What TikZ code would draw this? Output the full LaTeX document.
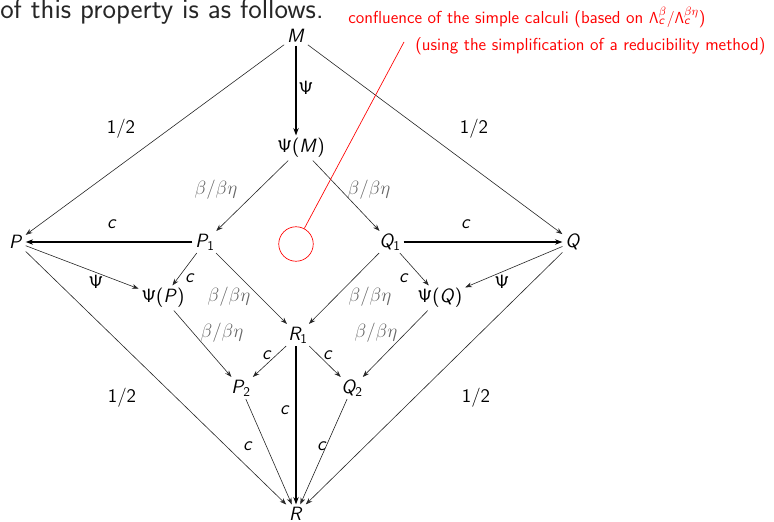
\documentclass[tikz,border=0pt]{standalone}
\usetikzlibrary{arrows.meta}
\DeclareMathAlphabet{\mathsfsl}{OT1}{cmss}{m}{sl}
\newcommand{\vv}[1]{$\mathsfsl{#1}$}
\newcommand{\vs}[2]{$\mathsfsl{#1}_{\mathsf{#2}}$}
\newcommand{\PsiS}{$\mathsf{\Psi}$}
\newcommand{\bb}{$\beta/\beta\eta$}
\begin{document}
\begin{tikzpicture}[x=0.75pt,y=-0.75pt,
  every node/.style={font=\sffamily\fontsize{14.4}{17}\selectfont},
  term/.style={inner sep=2pt},
  lab/.style={inner sep=0pt},
  glab/.style={inner sep=0pt, text=black!60},
  thinarr/.style={draw=black!85, line width=0.45pt, -{Stealth[length=5pt,width=3.6pt]}},
  thickarr/.style={draw=black, line width=1.5pt, -{Stealth[length=5.5pt,width=4pt]}},
  note/.style={text=red, inner sep=0pt, anchor=base west, font=\sffamily\fontsize{13}{15}\selectfont}]
\useasboundingbox (0,0) rectangle (774,521);
% heading remnant
\node[anchor=base west, inner sep=0pt, text=black!85, font=\sffamily\fontsize{21.5}{25}\selectfont] (head) at (0,18) {of this property is as follows.};
% terms
\node[term] (M) at (296,36) {\vv{M}};
\node[term] (PM) at (301,148) {\PsiS(\vv{M})};
\node[term] (P) at (16,242) {\vv{P}};
\node[term] (P1) at (205,242) {\vs{P}{1}};
\node[term] (Q1) at (390,242) {\vs{Q}{1}};
\node[term] (Q) at (573,242) {\vv{Q}};
\node[term] (PP) at (163,298) {\PsiS(\vv{P})};
\node[term] (PQ) at (440,298) {\PsiS(\vv{Q})};
\node[term] (R1) at (298,335) {\vs{R}{1}};
\node[term] (P2) at (241,388) {\vs{P}{2}};
\node[term] (Q2) at (352,388) {\vs{Q}{2}};
\node[term] (R) at (296,514) {\vv{R}};
% connectors
\draw[thickarr] (M) -- (PM.north -| M);
\draw[thinarr] (M) -- (P);
\draw[thinarr] (M) -- (Q);
\draw[thinarr] (PM) -- (P1);
\draw[thinarr] (PM) -- (Q1);
\draw[thickarr] (P1) -- (P);
\draw[thickarr] (Q1) -- (Q);
\draw[thinarr] (P) -- (PP);
\draw[thinarr] (P1) -- (PP);
\draw[thinarr] (P1) -- (R1);
\draw[thinarr] (Q1) -- (R1);
\draw[thinarr] (Q1) -- (PQ);
\draw[thinarr] (Q) -- (PQ);
\draw[thinarr] (PP) -- (P2);
\draw[thinarr] (PQ) -- (Q2);
\draw[thinarr] (R1) -- (P2);
\draw[thinarr] (R1) -- (Q2);
\draw[thickarr] (R1.south -| R) -- (R);
\draw[thinarr] (P2) -- (R);
\draw[thinarr] (Q2) -- (R);
\draw[thinarr] (P) -- (R);
\draw[thinarr] (Q) -- (R);
% labels
\node[lab] (lPsiM) at (306,88) {\PsiS};
\node[lab] (lMP) at (121,129) {1/2};
\node[lab] (lMQ) at (474,129) {1/2};
\node[glab] (lPM1) at (216,190) {\bb};
\node[glab] (lPM2) at (369,190) {\bb};
\node[lab] (lP1P) at (112,224) {\vv{c}};
\node[lab] (lQ1Q) at (466,224) {\vv{c}};
\node[lab] (lPPP) at (96,282) {\PsiS};
\node[lab] (lQPQ) at (502,282) {\PsiS};
\node[lab] (lP1PP) at (190,278) {\vv{c}};
\node[lab] (lQ1PQ) at (404,278) {\vv{c}};
\node[glab] (lP1R1) at (229,297) {\bb};
\node[glab] (lQ1R1) at (370,297) {\bb};
\node[glab] (lPPP2) at (222,333) {\bb};
\node[glab] (lPQQ2) at (376,333) {\bb};
\node[lab] (lR1P2) at (267,355) {\vv{c}};
\node[lab] (lR1Q2) at (328,355) {\vv{c}};
\node[lab] (lR1R) at (285,410) {\vv{c}};
\node[lab] (lP2R) at (248,446) {\vv{c}};
\node[lab] (lQ2R) at (322,446) {\vv{c}};
\node[lab] (lPR) at (122,398) {1/2};
\node[lab] (lQR) at (476,398) {1/2};
% red annotation
\node[draw=red, circle, minimum size=34.5*0.75pt, inner sep=0pt, line width=0.5pt] (rc) at (296,244) {};
\coordinate (rt) at (404,42);
\draw[red, line width=0.5pt] (rc) -- (rt);
\node[note] (n1) at (348,23) {confluence of the simple calculi (based on $\mathsf{\Lambda}^{\beta}_{\mathsfsl{c}}/\mathsf{\Lambda}^{\beta\eta}_{\mathsfsl{c}}$)};
\node[note] (n2) at (415,50) {(using the simplification of a reducibility method)};
\end{tikzpicture}
\end{document}
